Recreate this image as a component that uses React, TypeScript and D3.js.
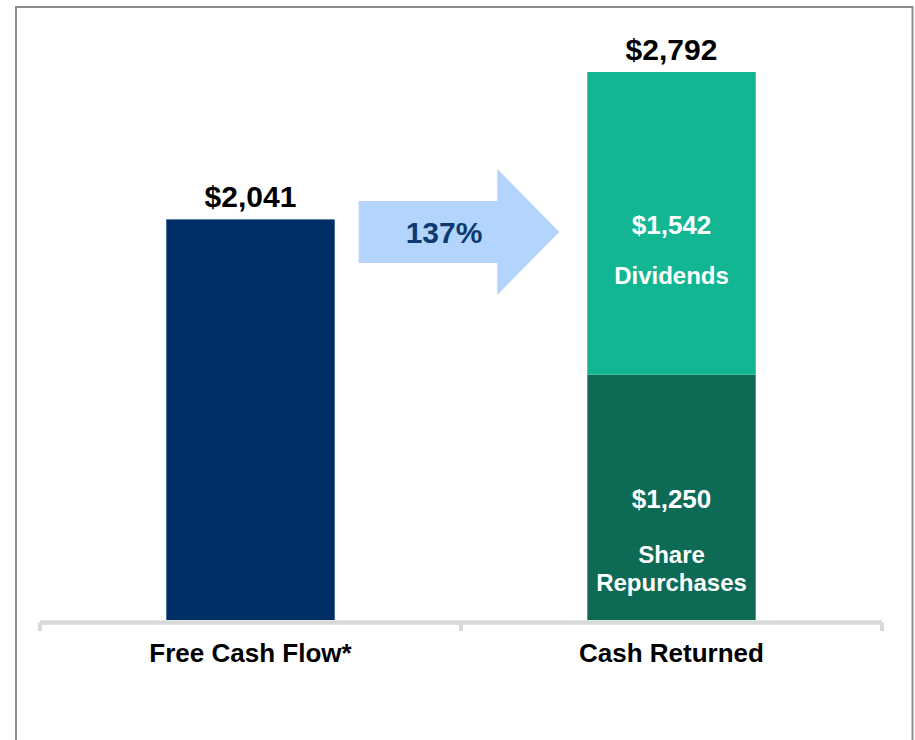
import React from "react";
import * as d3 from "d3";

// values in $ millions
const categories = ["Free Cash Flow*", "Cash Returned"];
const freeCashFlow = [2041, 0];
const dividends = [0, 1542];
const repurchases = [0, 1250];
const totalLabels = ["$2,041", "$2,792"];
const segmentNames = [["Dividends"], ["Share", "Repurchases"]];
const segmentValueLabels = ["$1,542", "$1,250"];
const growthLabel = "137%";

const W = 915;
const H = 740;
const FONT = "'Liberation Sans', Arial, Helvetica, sans-serif";

export default function App() {
  const x = d3.scaleBand<string>().domain(categories).range([40, 882]).padding(0);
  const y = d3.scaleLinear().domain([0, 2792]).range([620, 72]);
  const barW = x.bandwidth() * 0.4;
  const barX = (c: string) => (x(c) as number) + (x.bandwidth() - barW) / 2;
  const cx = (c: string) => (x(c) as number) + x.bandwidth() / 2;

  const totals = categories.map((_, i) => freeCashFlow[i] + dividends[i] + repurchases[i]);

  // stacked segments for the "Cash Returned" bar
  const stack = d3
    .stack<number>()
    .keys(["repurchases", "dividends"])
    .value((i, key) => (key === "dividends" ? dividends[i] : repurchases[i]));
  const series = stack([1]);
  const segColors: Record<string, string> = {
    repurchases: "#0c6a55",
    dividends: "#12b693",
  };
  const segLabelIdx: Record<string, number> = { dividends: 0, repurchases: 1 };

  // arrow between the two bars
  const ax0 = barX(categories[0]) + barW + 24;
  const ax1 = barX(categories[1]) - 28;
  const ay = y(freeCashFlow[0]) + 12.5;
  const headX = ax1 - 62;
  const arrowPath = d3.path();
  arrowPath.moveTo(ax0, ay - 31);
  arrowPath.lineTo(headX, ay - 31);
  arrowPath.lineTo(headX, ay - 63);
  arrowPath.lineTo(ax1, ay);
  arrowPath.lineTo(headX, ay + 63);
  arrowPath.lineTo(headX, ay + 31);
  arrowPath.lineTo(ax0, ay + 31);
  arrowPath.closePath();

  const axisY = 622.5;
  const tickXs = [40, 461, 882];

  return (
    <div style={{ position: "absolute", left: 0, top: 0 }}>
      <svg width={W} height={H} style={{ display: "block", fontFamily: FONT }}>
        <rect x={0} y={0} width={W} height={H} fill="#ffffff" />
        <rect x={16} y={7} width={896.5} height={H + 20} fill="none" stroke="#8c8c8c" strokeWidth={2} />

        {/* free cash flow bar */}
        <rect
          x={barX(categories[0])}
          y={y(freeCashFlow[0])}
          width={barW}
          height={y(0) - y(freeCashFlow[0])}
          fill="#002f68"
        />

        {/* cash returned stacked bar */}
        {series.map((s) => {
          const [d0, d1] = s[0];
          const c = categories[1];
          const mid = (y(d0) + y(d1)) / 2;
          const idx = segLabelIdx[s.key];
          const names = segmentNames[idx];
          const firstDy = names.length > 1 ? 55 : 50;
          return (
            <g key={s.key}>
              <rect x={barX(c)} y={y(d1)} width={barW} height={y(d0) - y(d1)} fill={segColors[s.key]} />
              <text
                x={cx(c)}
                y={mid + 11}
                textAnchor="middle"
                fill="#ffffff"
                fontWeight="bold"
                fontSize={26}
              >
                {segmentValueLabels[idx]}
              </text>
              {names.map((n, j) => (
                <text
                  key={n}
                  x={cx(c)}
                  y={mid + 11 + firstDy + j * 28}
                  textAnchor="middle"
                  fill="#ffffff"
                  fontWeight="bold"
                  fontSize={24}
                >
                  {n}
                </text>
              ))}
            </g>
          );
        })}

        {/* totals above bars */}
        {categories.map((c, i) => (
          <text
            key={c}
            x={cx(c)}
            y={y(totals[i]) - 12}
            textAnchor="middle"
            fill="#000000"
            fontWeight="bold"
            fontSize={30}
          >
            {totalLabels[i]}
          </text>
        ))}

        {/* arrow */}
        <path d={arrowPath.toString()} fill="#b3d4fc" />
        <text
          x={(ax0 + headX) / 2 + 16}
          y={ay + 11}
          textAnchor="middle"
          fill="#0d3a70"
          fontWeight="bold"
          fontSize={30}
        >
          {growthLabel}
        </text>

        {/* axis */}
        <line x1={40} x2={882} y1={axisY} y2={axisY} stroke="#d9d9d9" strokeWidth={4.5} />
        {tickXs.map((tx) => (
          <line key={tx} x1={tx} x2={tx} y1={axisY} y2={631} stroke="#d9d9d9" strokeWidth={4} />
        ))}
        {categories.map((c) => (
          <text
            key={c}
            x={cx(c)}
            y={662}
            textAnchor="middle"
            fill="#000000"
            fontWeight="bold"
            fontSize={26}
          >
            {c}
          </text>
        ))}
      </svg>
    </div>
  );
}
